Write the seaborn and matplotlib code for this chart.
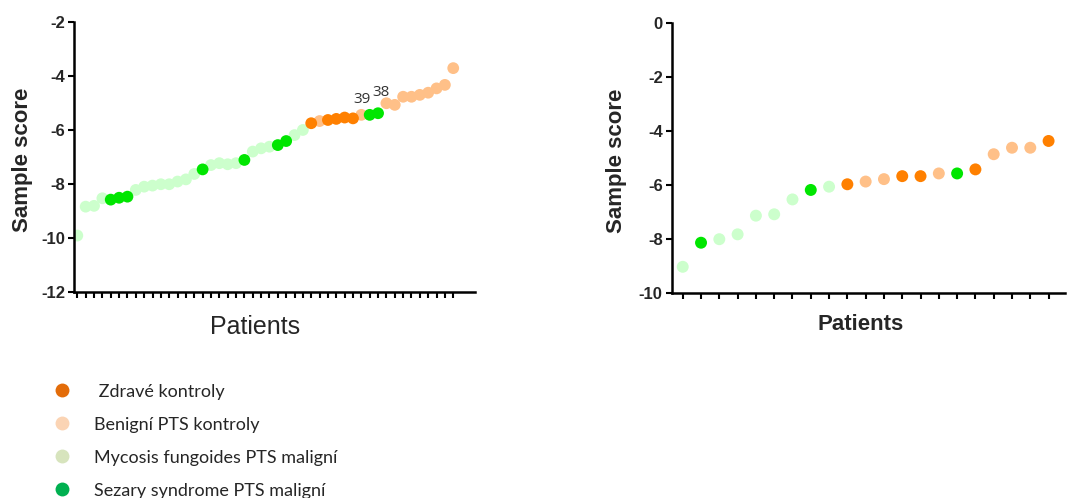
import pandas as pd
import matplotlib.pyplot as plt
import seaborn as sns
from matplotlib.lines import Line2D

# group codes: Z = zdrave, B = benigni, M = mycosis fungoides, S = sezary
left_scores = [-9.91, -8.84, -8.81, -8.53, -8.58, -8.51, -8.47, -8.22, -8.10, -8.06,
               -8.01, -8.01, -7.91, -7.83, -7.63, -7.46, -7.30, -7.23, -7.27, -7.23,
               -7.11, -6.80, -6.68, -6.62, -6.56, -6.41, -6.19, -6.00, -5.75, -5.67,
               -5.63, -5.59, -5.54, -5.57, -5.44, -5.44, -5.38, -5.01, -5.07, -4.77,
               -4.77, -4.70, -4.62, -4.46, -4.33, -3.71]
left_groups = ["M", "M", "M", "M", "S", "S", "S", "M", "M", "M",
               "M", "M", "M", "M", "M", "S", "M", "M", "M", "M",
               "S", "M", "M", "M", "S", "S", "M", "M", "Z", "B",
               "Z", "Z", "Z", "Z", "B", "S", "S", "B", "B", "B",
               "B", "B", "B", "B", "B", "B"]
left_labels = {35: "39", 36: "38"}

right_scores = [-9.02, -8.13, -8.00, -7.82, -7.13, -7.08, -6.53, -6.18, -6.06, -5.97,
                -5.87, -5.78, -5.67, -5.67, -5.57, -5.57, -5.42, -4.86, -4.62, -4.62,
                -4.37]
right_groups = ["M", "S", "M", "M", "M", "M", "M", "S", "M", "Z",
                "B", "B", "Z", "Z", "B", "S", "Z", "B", "B", "B",
                "Z"]

legend_labels = [" Zdravé kontroly", "Benigní PTS kontroly",
                 "Mycosis fungoides PTS maligní", "Sezary syndrome PTS maligní"]

# barvy v grafu a v legendě (legenda je z jiného programu)
plot_colors = {"Z": "#FF8000", "B": "#FFC088", "M": "#CCFFCC", "S": "#00E600"}
legend_colors = ["#E36C09", "#FBD4B4", "#D7E4BD", "#00B050"]
draw_order = {"M": 0, "B": 1, "Z": 2, "S": 3}

sns.set_theme(style="white")
plt.rcParams['font.family'] = ['Liberation Sans', 'DejaVu Sans']

fig = plt.figure(figsize=(10.69, 4.98), dpi=100)
ax1 = fig.add_axes([0.0692, 0.4137, 0.3751, 0.5422])
ax2 = fig.add_axes([0.6284, 0.4110, 0.3679, 0.5434])


def make_df(scores, groups):
    df = pd.DataFrame({"patient": range(len(scores)), "score": scores, "group": groups})
    df["rank"] = df["group"].map(draw_order)
    return df.sort_values(["rank", "patient"], kind="stable")


def style_axis(ax, ylim, yticks):
    ax.set_ylim(*ylim)
    ax.set_yticks(yticks)
    ax.set_yticklabels([str(t) for t in yticks], fontweight="bold", fontsize=12)
    for s in ["top", "right"]:
        ax.spines[s].set_visible(False)
    for s in ["left", "bottom"]:
        ax.spines[s].set_linewidth(1.8)
        ax.spines[s].set_color("black")
    ax.tick_params(axis="both", direction="out", length=4.5, width=1.5, color="black",
                   left=True, bottom=True, pad=2)
    ax.tick_params(axis="x", labelbottom=False)
    ax.set_ylabel("Sample score", fontsize=16, fontweight="bold")
    ax.yaxis.label.set_va("center")


df1 = make_df(left_scores, left_groups)
sns.scatterplot(data=df1, x="patient", y="score", hue="group", palette=plot_colors,
                s=72, linewidth=0, legend=False, ax=ax1)
ax1.set_xlim(-0.4, 47.6)
ax1.set_xticks(range(len(left_scores)))
style_axis(ax1, (-12, -2), [-2, -4, -6, -8, -10, -12])
ax1.set_xlabel("Patients", fontsize=18)
ax1.xaxis.set_label_coords(0.451, -0.13)
ax1.xaxis.label.set_va("center")
ax1.yaxis.set_label_coords(-0.128, 0.49)

for idx, txt in left_labels.items():
    off = (-8, 15) if txt == "39" else (3, 21)
    ax1.annotate(txt, (idx, left_scores[idx]), xytext=off, textcoords="offset pixels",
                 ha="center", va="center", fontsize=11, color="#333333",
                 family=["Open Sans", "DejaVu Sans"])

df2 = make_df(right_scores, right_groups)
sns.scatterplot(data=df2, x="patient", y="score", hue="group", palette=plot_colors,
                s=74, linewidth=0, legend=False, ax=ax2)
ax2.set_xlim(-0.6, 20.9)
ax2.set_xticks(range(len(right_scores)))
style_axis(ax2, (-10, 0), [0, -2, -4, -6, -8, -10])
ax2.set_xlabel("Patients", fontsize=16, fontweight="bold")
ax2.xaxis.set_label_coords(0.479, -0.117)
ax2.xaxis.label.set_va("center")
ax2.yaxis.set_label_coords(-0.14, 0.49)

handles = [Line2D([], [], marker="o", linestyle="", markersize=10,
                  markerfacecolor=c, markeredgewidth=0) for c in legend_colors]
fig.legend(handles, legend_labels, loc="upper left", bbox_to_anchor=(0.036, 0.262),
           frameon=False, handlelength=0.8, handletextpad=1.38, labelspacing=0.94,
           prop={"family": ["Lato", "DejaVu Sans"], "size": 13})

fig.savefig("out.png", dpi=100, facecolor="white")
